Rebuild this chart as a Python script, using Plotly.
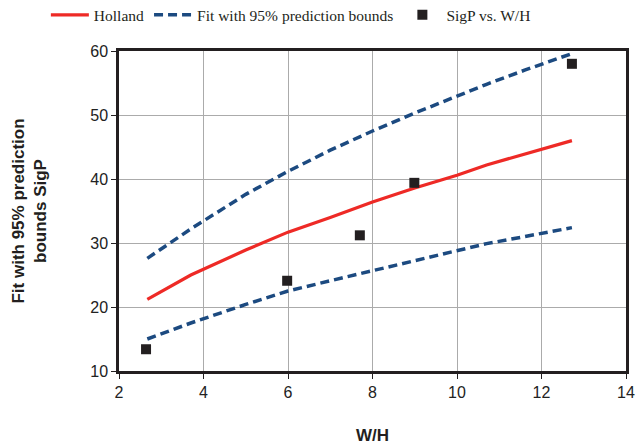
import plotly.graph_objects as go

# Data
wh_line = [2.67, 3.7, 5, 6, 7, 8, 9, 10, 10.7, 11.6, 12.72]
holland = [21.2, 25.0, 28.9, 31.7, 34.0, 36.4, 38.6, 40.6, 42.2, 43.9, 46.0]
upper_bound = [27.6, 32.2, 37.6, 41.2, 44.5, 47.5, 50.3, 53.0, 54.8, 57.0, 59.6]
lower_bound = [15.0, 17.5, 20.4, 22.5, 24.1, 25.7, 27.3, 28.9, 29.9, 31.0, 32.4]

wh_pts = [2.64, 5.98, 7.70, 8.99, 12.72]
sigp_pts = [13.4, 24.1, 31.2, 39.4, 58.0]

x_ticks = [2, 4, 6, 8, 10, 12, 14]
y_ticks = [10, 20, 30, 40, 50, 60]

RED = "#ee2a26"
BLUE = "#1c4a80"
DARK = "#231f20"

fig = go.Figure()
fig.add_trace(go.Scatter(x=wh_line, y=holland, mode="lines", name="Holland",
                         line=dict(color=RED, width=3.2)))
fig.add_trace(go.Scatter(x=wh_line, y=upper_bound, mode="lines",
                         name="Fit with 95% prediction bounds",
                         line=dict(color=BLUE, width=3.5, dash="9px,5px")))
fig.add_trace(go.Scatter(x=wh_line, y=lower_bound, mode="lines",
                         name="Fit with 95% prediction bounds", showlegend=False,
                         line=dict(color=BLUE, width=3.5, dash="9px,5px")))
fig.add_trace(go.Scatter(x=wh_pts, y=sigp_pts, mode="markers", name="SigP vs. W/H",
                         marker=dict(symbol="square", size=10, color=DARK)))

axis_common = dict(
    showgrid=True, gridcolor="#ababab", gridwidth=1.3,
    showline=True, linecolor=DARK, linewidth=2.5, mirror=True,
    ticks="outside", ticklen=5, tickcolor=DARK, tickwidth=1.2,
    tickfont=dict(family="Liberation Sans, Arial", size=16, color="#222222"),
    zeroline=False,
)

fig.update_layout(
    width=637, height=448,
    margin=dict(l=119, r=11, t=51, b=77, autoexpand=False),
    paper_bgcolor="white", plot_bgcolor="white",
    showlegend=True,
    legend=dict(orientation="h", xref="container", x=0.072, xanchor="left",
                yref="container", y=0.966, yanchor="middle",
                font=dict(family="Liberation Serif, Times New Roman", size=15.5, color=DARK),
                bgcolor="rgba(0,0,0,0)", itemwidth=38, tracegroupgap=0),
    xaxis=dict(range=[2, 14], tickvals=x_ticks, **axis_common,
               title=dict(text="<b>W/H</b>", standoff=30,
                          font=dict(family="Liberation Sans, Arial", size=17, color=DARK))),
    yaxis=dict(range=[10, 60], tickvals=y_ticks, **axis_common,
               title=dict(text="<b>Fit with 95% prediction<br>bounds SigP</b>", standoff=40,
                          font=dict(family="Liberation Sans, Arial", size=17, color=DARK))),
)

fig.write_html("out.html")
